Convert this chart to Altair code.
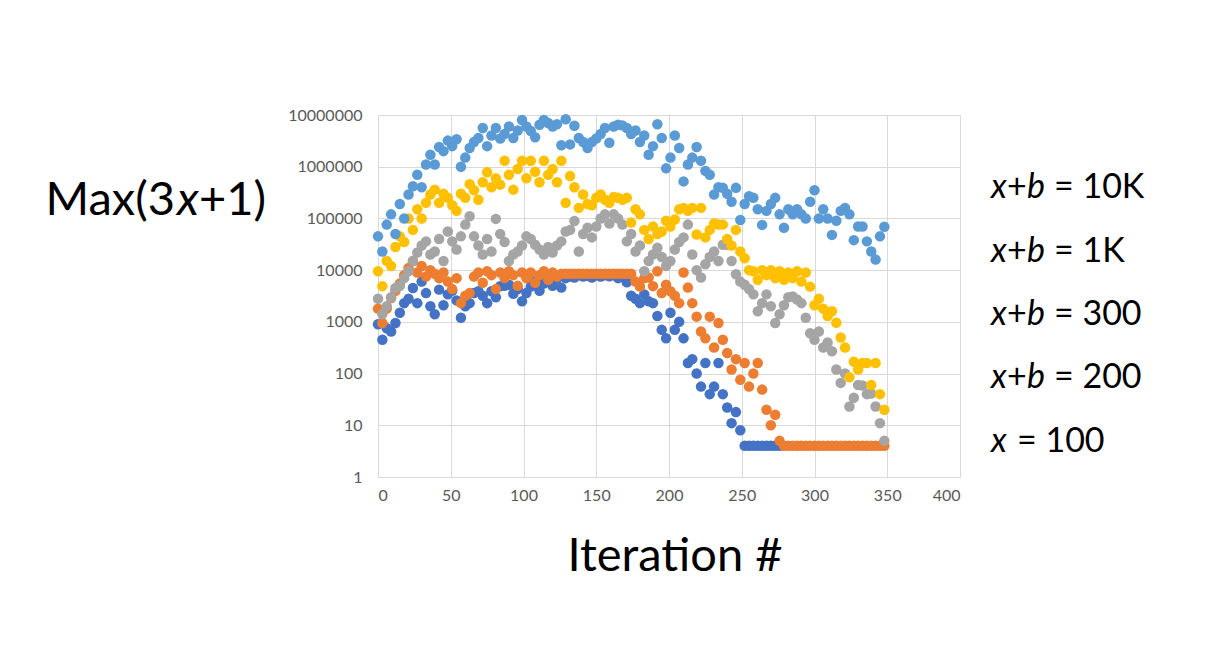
import altair as alt
import pandas as pd

ITER = [0, 3, 6, 9, 12, 15, 18, 21, 24, 27, 30, 33, 36, 39, 42, 45, 48, 51, 54, 57,
        60, 63, 66, 69, 72, 75, 78, 81, 84, 87, 90, 93, 96, 99, 102, 105, 108, 111, 114, 117,
        120, 123, 126, 129, 132, 135, 138, 141, 144, 147, 150, 153, 156, 159, 162, 165, 168, 171, 174, 177,
        180, 183, 186, 189, 192, 195, 198, 201, 204, 207, 210, 213, 216, 219, 222, 225, 228, 231, 234, 237,
        240, 243, 246, 249, 252, 255, 258, 261, 264, 267, 270, 273, 276, 279, 282, 285, 288, 291, 294, 297,
        300, 303, 306, 309, 312, 315, 318, 321, 324, 327, 330, 333, 336, 339, 342, 345, 348]

# x = 100
S100 = [900, 450, 750, 650, 950, 1500, 2300, 2800, 4500, 2300, 6000, 3600, 2000, 1400, 4200, 2100, 3400, 4000, 2600, 1200,
        2000, 2300, 3600, 3900, 3200, 2300, 3900, 3000, 4900, 5000, 5200, 3500, 4300, 2500, 3600, 4800, 6000, 4000, 5500, 6500,
        5000, 6800, 4600, 7000, 7500, 7200, 8000, 7500, 7800, 7200, 8000, 7500, 8000, 7600, 8000, 7000, 7600, 5800, 3200, 2800,
        2300, 3400, 2500, 2300, 1300, 700, 480, 1500, 700, 1000, 480, 160, 190, 100, 56, 160, 40, 56, 160, 40,
        22, 11, 18, 8, 4, 4, 4, 4, 4, 4, 4, 4, 4]

# x+b = 200
S200 = [1800, 950, 1800, 2900, 4000, 5500, 8000, 11000, 15000, 9000, 12000, 7500, 10000, 8500, 7000, 9000, 6000, 4300, 7000, 2300,
        3200, 3600, 7500, 9000, 5700, 9500, 8000, 4300, 9000, 7000, 9500, 8000, 5000, 9000, 7000, 9000, 5700, 8000, 9500, 6500,
        9000, 7500, 8500, 8500, 8500, 8500, 8500, 8500, 8500, 8500, 8500, 8500, 8500, 8500, 8500, 8500, 8500, 8500, 8500, 6000,
        4800, 7000, 7200, 4900, 9500, 3600, 5200, 3900, 3200, 2300, 9000, 4600, 2300, 1260, 650, 480, 1260, 320, 950, 450,
        250, 120, 190, 76, 160, 56, 100, 160, 49, 20, 10, 16, 5, 4, 4, 4, 4, 4, 4, 4,
        4, 4, 4, 4, 4, 4, 4, 4, 4, 4, 4, 4, 4, 4, 4, 4, 4]

# x+b = 300
S300 = [2800, 1400, 2000, 3000, 4500, 5000, 7000, 9500, 15000, 22000, 30000, 36000, 20000, 23000, 40000, 15000, 56000, 36000, 25000, 45000,
        76000, 110000, 45000, 30000, 20000, 40000, 23000, 98000, 50000, 35000, 15000, 20000, 23000, 30000, 45000, 40000, 31000, 25000, 20000, 28000,
        22000, 30000, 36000, 56000, 60000, 89000, 23000, 50000, 66000, 43000, 70000, 100000, 120000, 80000, 120000, 100000, 76000, 36000, 50000, 23000,
        30000, 9500, 15000, 20000, 27000, 18000, 12000, 15000, 25000, 35000, 43000, 76000, 20000, 10000, 7200, 13000, 18000, 23000, 15000, 31000,
        31000, 15000, 8300, 6000, 5200, 4300, 3400, 1600, 2300, 3400, 2000, 950, 1400, 2100, 3000, 3100, 2700, 2300, 1200, 600,
        450, 650, 320, 400, 270, 120, 66, 100, 23, 34, 60, 59, 40, 41, 23, 11, 5]

# x+b = 1K
S1K = [9500, 4900, 15000, 12000, 28000, 45000, 35000, 100000, 60000, 150000, 100000, 200000, 290000, 360000, 200000, 300000, 250000, 180000, 140000, 300000,
       250000, 460000, 350000, 230000, 500000, 780000, 400000, 600000, 450000, 1300000, 700000, 360000, 900000, 1300000, 600000, 1300000, 800000, 500000, 1300000, 700000,
       900000, 500000, 1300000, 200000, 660000, 400000, 160000, 290000, 190000, 180000, 250000, 290000, 230000, 200000, 260000, 250000, 230000, 250000, 83000, 150000,
       120000, 60000, 40000, 70000, 50000, 56000, 90000, 70000, 95000, 150000, 160000, 140000, 160000, 49000, 160000, 43000, 60000, 80000, 76000, 76000,
       40000, 30000, 60000, 23000, 17000, 10000, 9500, 6500, 10000, 8000, 10000, 7000, 9500, 6500, 9000, 7000, 9500, 6000, 9000, 4800,
       2100, 2800, 1800, 1300, 1600, 960, 500, 320, 85, 170, 120, 160, 160, 60, 160, 40, 20]

# x+b = 10K
S10K = [45000, 23000, 76000, 120000, 50000, 190000, 100000, 290000, 420000, 700000, 400000, 1100000, 1700000, 1100000, 2400000, 2000000, 3200000, 2500000, 3400000, 1000000,
        1500000, 2300000, 3000000, 3600000, 5600000, 2500000, 4000000, 5600000, 3500000, 4300000, 6000000, 3600000, 5000000, 8000000, 6000000, 4900000, 3700000, 6500000, 8000000, 7000000,
        6000000, 6600000, 2600000, 8300000, 2700000, 6200000, 3600000, 3000000, 2300000, 3000000, 3500000, 4300000, 5600000, 2900000, 6000000, 6500000, 6300000, 5600000, 4300000, 5000000,
        3000000, 4000000, 1700000, 2500000, 6600000, 3600000, 930000, 1500000, 4000000, 2300000, 520000, 1100000, 1500000, 2400000, 1300000, 830000, 700000, 290000, 400000, 390000,
        300000, 210000, 390000, 93000, 190000, 270000, 250000, 150000, 75000, 140000, 190000, 250000, 120000, 66000, 150000, 120000, 150000, 120000, 100000, 210000,
        350000, 100000, 150000, 100000, 48000, 90000, 140000, 160000, 120000, 38000, 70000, 70000, 36000, 23000, 16000, 45000, 69000]

SERIES = [("x = 100", S100, "#4472C4"),
          ("x+b = 200", S200, "#ED7D31"),
          ("x+b = 300", S300, "#A5A5A5"),
          ("x+b = 1K", S1K, "#FFC000"),
          ("x+b = 10K", S10K, "#5B9BD5")]

FONT = "Lato"

x_axis = alt.Axis(values=[0, 50, 100, 150, 200, 250, 300, 350, 400], grid=True, gridColor="#D9D9D9",
                  domainColor="#D9D9D9", ticks=False, tickSize=0, labelColor="#595959", labelFont=FONT,
                  labelFontSize=16, labelPadding=10, title=None)
y_axis = alt.Axis(values=[1, 10, 100, 1000, 10000, 100000, 1000000, 10000000], format="d", grid=True,
                  gridColor="#D9D9D9", domain=False, ticks=False, tickSize=0, labelColor="#595959",
                  labelFont=FONT, labelFontSize=16, labelPadding=16, title=None)

layers = []
for name, vals, col in SERIES:
    df = pd.DataFrame({"iter": ITER[:len(vals)], "val": vals})
    layers.append(
        alt.Chart(df).mark_circle(size=110, opacity=1, color=col).encode(
            x=alt.X("iter:Q", scale=alt.Scale(domain=[0, 400], nice=False), axis=x_axis),
            y=alt.Y("val:Q", scale=alt.Scale(type="log", domain=[1, 10000000], nice=False), axis=y_axis),
        )
    )


def label(txt, px, py, size, italic=False, align="left"):
    return alt.Chart(pd.DataFrame({"t": [txt]})).mark_text(
        align=align, baseline="alphabetic", font=FONT, fontSize=size,
        fontStyle="italic" if italic else "normal", color="#000000"
    ).encode(x=alt.value(px), y=alt.value(py), text="t:N")


# Left title: Max(3x+1)
layers.append(label("Max(3", -203, 100, 47, align="right"))
layers.append(label("x", -201, 100, 47, italic=True))
layers.append(label("+1)", -179, 100, 47))
# Bottom title
layers.append(label("Iteration #", 297, 456, 47, align="center"))

# Right labels
RIGHT_VALUES = ["10K", "1K", "300", "200"]
base_y = [83, 147, 210, 273]
for val, by in zip(RIGHT_VALUES, base_y):
    layers.append(label("x", 613, by, 34, italic=True))
    layers.append(label("+", 629, by, 34))
    layers.append(label("b", 649, by, 34, italic=True))
    layers.append(label("= " + val, 676, by, 34))
layers.append(label("x", 613, 337, 34, italic=True))
layers.append(label("= 100", 639, 337, 34))

chart = alt.layer(*layers).properties(
    width=582, height=362,
    padding={"left": 370, "top": 107, "right": 245, "bottom": 167},
    autosize=alt.AutoSizeParams(type="none"),
    background="white",
).configure_view(strokeWidth=0)

chart.save("out.html", embed_options={"renderer": "svg", "actions": False})
